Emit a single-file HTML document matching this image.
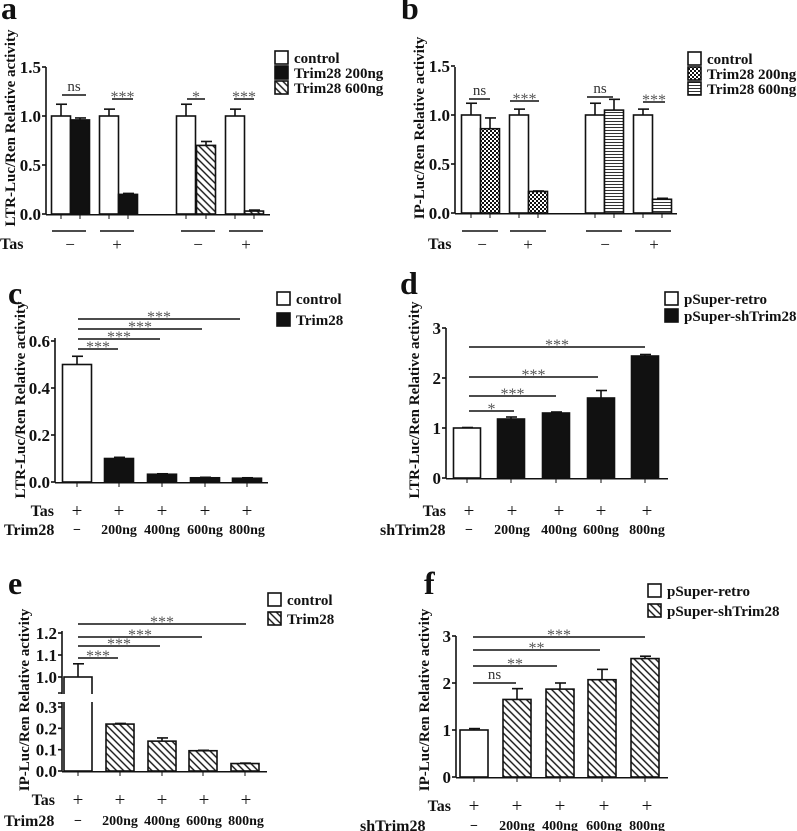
<!DOCTYPE html>
<html><head><meta charset="utf-8"><style>
html,body{margin:0;padding:0;background:#fff;}
svg{display:block;font-family:"Liberation Serif","DejaVu Serif",serif;font-weight:bold;}
</style></head><body>
<svg id="fig" width="797" height="831" viewBox="0 0 797 831" xmlns="http://www.w3.org/2000/svg">
<defs>
<pattern id="hatch" width="5" height="5" patternUnits="userSpaceOnUse" patternTransform="rotate(45)"><rect width="5" height="5" fill="#fff"/><line x1="0" y1="2.5" x2="5" y2="2.5" stroke="#111" stroke-width="1.4"/></pattern>
<pattern id="checker" width="4" height="4" patternUnits="userSpaceOnUse"><rect width="4" height="4" fill="#fff"/><rect width="2" height="2" fill="#111"/><rect x="2" y="2" width="2" height="2" fill="#111"/></pattern>
<pattern id="hstripe" width="4" height="3" patternUnits="userSpaceOnUse"><rect width="4" height="3" fill="#fff"/><line x1="0" y1="1.5" x2="4" y2="1.5" stroke="#333" stroke-width="1"/></pattern>
</defs>
</svg>
<script>
// ---- data ----
const aValues = [1.0, 0.96, 1.0, 0.20, 1.0, 0.70, 1.0, 0.03];
const aErrors = [0.12, 0.02, 0.07, 0.01, 0.12, 0.04, 0.07, 0.01];
const bValues = [1.0, 0.86, 1.0, 0.22, 1.0, 1.05, 1.0, 0.14];
const bErrors = [0.12, 0.11, 0.06, 0.005, 0.12, 0.11, 0.06, 0.01];
const cValues = [0.50, 0.10, 0.033, 0.018, 0.016];
const cErrors = [0.035, 0.005, 0.002, 0.002, 0.002];
const dValues = [1.0, 1.18, 1.30, 1.60, 2.44];
const dErrors = [0.01, 0.04, 0.02, 0.15, 0.03];
const eValues = [1.0, 0.22, 0.14, 0.095, 0.035];
const eErrors = [0.06, 0.003, 0.015, 0.002, 0.002];
const fValues = [1.0, 1.65, 1.87, 2.07, 2.52];
const fErrors = [0.03, 0.23, 0.13, 0.22, 0.05];
const abTicks = ["0.0", "0.5", "1.0", "1.5"];
const cTicks = ["0.0", "0.2", "0.4", "0.6"];
const dfTicks = ["0", "1", "2", "3"];
const eTicksLow = ["0.0", "0.1", "0.2", "0.3"];
const eTicksHigh = ["1.0", "1.1", "1.2"];
const doseLabels = ["\u2212", "200ng", "400ng", "600ng", "800ng"];
const tasAB = ["\u2212", "+", "\u2212", "+"];
const sigA = ["ns", "***", "*", "***"];
const sigB = ["ns", "***", "ns", "***"];
const sigC = ["***", "***", "***", "***"];
const sigD = ["*", "***", "***", "***"];
const sigE = ["***", "***", "***", "***"];
const sigF = ["ns", "**", "**", "***"];

const NS = "http://www.w3.org/2000/svg";
const svg = document.getElementById("fig");
function mk(tag, attrs, parent, text) {
  const e = document.createElementNS(NS, tag);
  for (const k in attrs) e.setAttribute(k, attrs[k]);
  if (text !== undefined) e.textContent = text;
  (parent || svg).appendChild(e);
  return e;
}
function group(name) {
  const g = mk("g", {});
  
  
  return g;
}
function line(g, x1, y1, x2, y2, w) { return mk("line", {x1, y1, x2, y2, stroke: "#111", "stroke-width": w || 1.6}, g); }
function text(g, x, y, s, size, anchor, fill) {
  return mk("text", {x, y, "font-size": size, "text-anchor": anchor || "start", fill: fill || "#111"}, g, s);
}

function drawPanel(p) {
  const g = group(p.name);
  const L = text(g, p.letterX, p.letterY, p.letter, 32);
  
  
  const yl = mk("text", {x: 0, y: 0, "font-size": 15, "text-anchor": "middle", fill: "#111",
    transform: `translate(${p.ax - p.ylOff},${p.ylY}) rotate(-90)`}, g, p.ylabel);
  
  
  const axg = mk("g", {}, g);
  
  
  line(axg, p.ax, p.y0 + 0.75, p.axEnd, p.y0 + 0.75);
  line(axg, p.ax, p.y0, p.ax, p.yTop);
  p.ticks.forEach((t, i) => {
    const y = p.ys(parseFloat(t));
    line(axg, p.ax - 4, y, p.ax, y);
    const tl = text(axg, p.ax - 5, y + 6, t, 17, "end");
    
    
  });
  p.values.forEach((v, i) => {
    const cx = p.bx[i];
    const top = p.ys(v), et = p.ys(v + p.errors[i]);
    line(g, cx, top, cx, et, 1.6);
    line(g, cx - 5, et, cx + 6, et, 1.6);
    const r = mk("rect", {x: cx - p.bw / 2, y: top, width: p.bw, height: p.y0 - top, fill: p.fills[i], stroke: "#111", "stroke-width": 1.6}, g);
    
    
    if (p.xTicks) line(g, cx, p.y0 + 1, cx, p.y0 + 5, 1);
  });
  p.sig.forEach((s, i) => {
    const sg = mk("g", {}, g);
    
    
    const [x1, x2, y] = p.sigPos[i];
    line(sg, x1, y, x2, y, 1.6);
    if (s === "ns") text(sg, (x1 + x2) / 2, y - 4, s, 15, "middle", "#333").setAttribute("font-weight", "normal");
    else text(sg, (x1 + x2) / 2, y + 3, s, 16, "middle", "#555").setAttribute("font-weight", "normal");
  });
  p.legend.forEach((l, i) => {
    const lg = mk("g", {}, g);
    
    
    const y = p.legY + i * p.legDy;
    mk("rect", {x: p.legX, y: y - 6, width: 13, height: 13, fill: l[1], stroke: "#111", "stroke-width": 1.6}, lg);
    text(lg, p.legX + 19, y + 6, l[0], 15);
  });
  p.rows(g);
}

function abRows(g, tasX, under, signX) {
  const rg = mk("g", {}, g);
  
  
  under.forEach(u => line(rg, u[0], 231, u[1], 231, 1.6));
  text(rg, tasX, 249, "Tas", 16);
  tasAB.forEach((s, i) => text(rg, signX[i], 250, s, 17, "middle").setAttribute("font-weight", "normal"));
}
function doseRows(g, tasY, y2, lab2X, lab2, xs) {
  const rg = mk("g", {}, g);
  
  
  text(rg, xs[0] - 23, tasY + 6, "Tas", 16, "end");
  text(rg, lab2X, y2 + 6, lab2, 16);
  xs.forEach((x, i) => {
    text(rg, x, tasY + 7, "+", 19, "middle").setAttribute("font-weight", "normal");
    text(rg, x, y2 + 5, doseLabels[i], 14, "middle");
  });
}

const W = "#fff", K = "#111";
const aY = v => 214 - v * 98;
drawPanel({name: "panel-a", letter: "a", letterX: 1, letterY: 19, ylabel: "LTR-Luc/Ren Relative activity",
  ax: 46, ylOff: 31, ylY: 128, y0: 214, yTop: 67, axEnd: 270, ys: aY, ticks: abTicks,
  values: aValues, errors: aErrors, bw: 19, bx: [61, 80, 109, 128, 186, 206, 235, 254],
  fills: [W, K, W, K, W, "url(#hatch)", W, "url(#hatch)"], xTicks: true,
  sig: sigA, sigPos: [[62, 86, 95], [112, 133, 99], [187, 205, 99], [234, 254, 99]],
  legend: [["control", W], ["Trim28 200ng", K], ["Trim28 600ng", "url(#hatch)"]], legX: 275, legY: 57, legDy: 15,
  rows: g => abRows(g, 0, [[52, 86], [100, 134], [181, 215], [229, 263]], [70, 117, 198, 246])});
const bY = v => 213 - v * 98;
drawPanel({name: "panel-b", letter: "b", letterX: 401, letterY: 19, ylabel: "IP-Luc/Ren Relative activity",
  ax: 455, ylOff: 31, ylY: 128, y0: 213, yTop: 67, axEnd: 677, ys: bY, ticks: abTicks,
  values: bValues, errors: bErrors, bw: 19, bx: [471, 490, 519, 538, 595, 614, 643, 662],
  fills: [W, "url(#checker)", W, "url(#checker)", W, "url(#hstripe)", W, "url(#hstripe)"], xTicks: true,
  sig: sigB, sigPos: [[469, 490, 99], [510, 539, 101], [587, 613, 97], [643, 665, 102]],
  legend: [["control", W], ["Trim28 200ng", "url(#checker)"], ["Trim28 600ng", "url(#hstripe)"]], legX: 688, legY: 58, legDy: 15,
  rows: g => abRows(g, 428, [[462, 498], [510, 546], [586, 622], [635, 671]], [482, 528, 605, 654])});
const cY = v => 482 - v / 0.2 * 47;
drawPanel({name: "panel-c", letter: "c", letterX: 8, letterY: 304, ylabel: "LTR-Luc/Ren Relative activity",
  ax: 55, ylOff: 30, ylY: 400, y0: 482, yTop: 338, axEnd: 268, ys: cY, ticks: cTicks,
  values: cValues, errors: cErrors, bw: 29, bx: [77, 119, 162, 205, 247],
  fills: [W, K, K, K, K], xTicks: true,
  sig: sigC, sigPos: [[78, 118, 349], [78, 160, 339], [78, 202, 329], [78, 240, 319]],
  legend: [["control", W], ["Trim28", K]], legX: 277, legY: 298, legDy: 21,
  rows: g => doseRows(g, 510, 529, 4, "Trim28", [77, 119, 162, 205, 247])});
const dY = v => 478 - v * 50;
drawPanel({name: "panel-d", letter: "d", letterX: 400, letterY: 294, ylabel: "LTR-Luc/Ren Relative activity",
  ax: 446, ylOff: 27, ylY: 400, y0: 478, yTop: 328, axEnd: 668, ys: dY, ticks: dfTicks,
  values: dValues, errors: dErrors, bw: 27, bx: [467, 511, 556, 601, 645],
  fills: [W, K, K, K, K], xTicks: true,
  sig: sigD, sigPos: [[469, 514, 411], [469, 556, 396], [469, 598, 377], [469, 645, 347]],
  legend: [["pSuper-retro", W], ["pSuper-shTrim28", K]], legX: 665, legY: 298, legDy: 17,
  rows: g => doseRows(g, 510, 529, 380, "shTrim28", [469, 512, 559, 601, 647])});
const eY = v => v <= 0.35 ? 771 - v / 0.3 * 64 : 677 - (v - 1.0) * 220;
drawPanel({name: "panel-e", letter: "e", letterX: 8, letterY: 594, ylabel: "IP-Luc/Ren Relative activity",
  ax: 62, ylOff: 33, ylY: 700, y0: 771, yTop: 631, axEnd: 267, ys: eY, ticks: eTicksLow.concat(eTicksHigh),
  values: eValues, errors: eErrors, bw: 28, bx: [78, 120, 162, 203, 245],
  fills: [W, "url(#hatch)", "url(#hatch)", "url(#hatch)", "url(#hatch)"], xTicks: true,
  sig: sigE, sigPos: [[78, 118, 658], [78, 160, 646], [78, 202, 637], [78, 246, 624]],
  legend: [["control", W], ["Trim28", "url(#hatch)"]], legX: 268, legY: 599, legDy: 19,
  rows: g => doseRows(g, 799, 820, 4, "Trim28", [78, 120, 162, 204, 246])});
(function () {
  const bg = group("axis-break");
  mk("rect", {x: 55, y: 694, width: 40, height: 8, fill: "#fff"}, bg);
  line(bg, 58, 693, 62, 693, 1.5); line(bg, 58, 703, 62, 703, 1.5);
})();
const fY = v => 777 - v * 47;
drawPanel({name: "panel-f", letter: "f", letterX: 424, letterY: 594, ylabel: "IP-Luc/Ren Relative activity",
  ax: 456, ylOff: 27, ylY: 700, y0: 777, yTop: 636, axEnd: 668, ys: fY, ticks: dfTicks,
  values: fValues, errors: fErrors, bw: 28, bx: [474, 517, 560, 602, 645],
  fills: [W, "url(#hatch)", "url(#hatch)", "url(#hatch)", "url(#hatch)"], xTicks: true,
  sig: sigF, sigPos: [[473, 516, 683], [473, 557, 666], [473, 600, 650], [473, 645, 637]],
  legend: [["pSuper-retro", W], ["pSuper-shTrim28", "url(#hatch)"]], legX: 648, legY: 590, legDy: 20,
  rows: g => doseRows(g, 805, 825, 360, "shTrim28", [474, 517, 560, 604, 647])});
</script>
</body></html>
